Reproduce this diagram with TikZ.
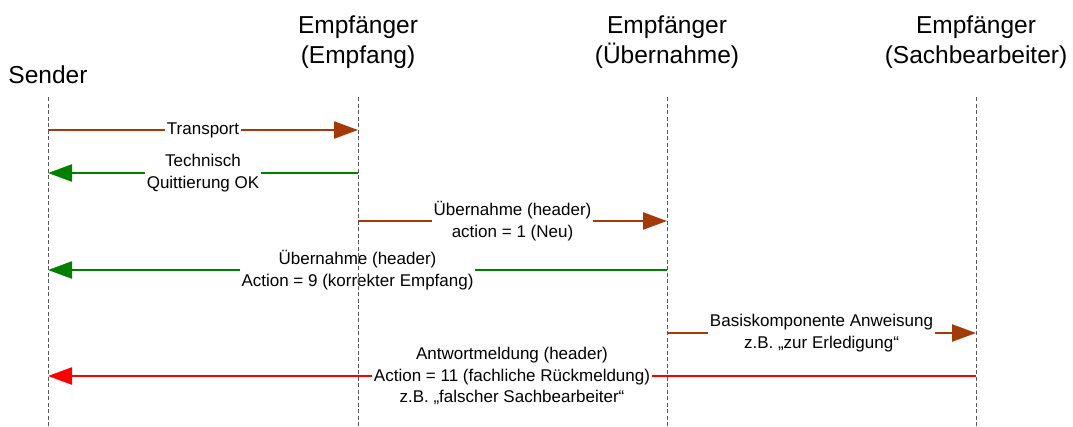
\documentclass[tikz,border=0pt]{standalone}
\usepackage{fontspec}
\setmainfont{Liberation Sans}
\usetikzlibrary{
		positioning,
		arrows.meta
	}
\definecolor{transfer}{RGB}{163,58,8}
\definecolor{ack}{RGB}{0,128,0}
\definecolor{reply}{RGB}{255,0,0}
\tikzset{
		>={Triangle[length=24pt,width=17pt]},
		party/.style={font=\fontsize{24.5}{30}\selectfont, align=center, inner sep=0pt},
		lifeline/.style={draw=black!65, line width=0.9pt, dash pattern=on 4pt off 2.5pt},
		msg/.style={line width=2.4pt, ->},
		msgtext/.style={fill=white, text=black, font=\fontsize{17}{21.5}\selectfont, align=center, inner sep=1.5pt}
	}

\begin{document}
\begin{tikzpicture}[x=1pt, y=-1pt] % (one unit = one pixel of the page, y pointing down)
		\useasboundingbox (0,0) rectangle (1073,426);
		% the parties
		\node[party] (snd) at (48,75) {Sender};
		\node[party] (emp) at (358,42) {Empfänger\\(Empfang)};
		\node[party] (ueb) at (667,42) {Empfänger\\(Übernahme)};
		\node[party] (sb)  at (976,42) {Empfänger\\(Sachbearbeiter)};
		% end points of the messages on the lifelines
		\coordinate (snd-1) at (48,130);  \coordinate (emp-1) at (358,130);
		\coordinate (snd-2) at (48,173);  \coordinate (emp-2) at (358,173);
		\coordinate (emp-3) at (358,221); \coordinate (ueb-3) at (667,221);
		\coordinate (snd-4) at (48,270);  \coordinate (ueb-4) at (667,270);
		\coordinate (ueb-5) at (667,333); \coordinate (sb-5)  at (976,333);
		\coordinate (snd-6) at (48,376);  \coordinate (sb-6)  at (976,376);
		% the messages
		\draw[msg, draw=transfer] (snd-1) -- node[msgtext]{Transport} (emp-1);
		\draw[msg, draw=ack] (emp-2) -- node[msgtext]{Technisch\\Quittierung OK} (snd-2);
		\draw[msg, draw=transfer] (emp-3) -- node[msgtext]{Übernahme (header)\\action = 1 (Neu)} (ueb-3);
		\draw[msg, draw=ack] (ueb-4) -- node[msgtext]{Übernahme (header)\\Action = 9 (korrekter Empfang)} (snd-4);
		\draw[msg, draw=transfer] (ueb-5) -- node[msgtext]{Basiskomponente Anweisung\\z.B. „zur Erledigung“} (sb-5);
		\draw[msg, draw=reply] (sb-6) -- node[msgtext]{Antwortmeldung (header)\\Action = 11 (fachliche Rückmeldung)\\z.B. „falscher Sachbearbeiter“} (snd-6);
		% lifelines on top
		\foreach \p/\x in {snd/48, emp/358, ueb/667, sb/976}{
			\coordinate (\p-top) at (\x,97);
			\coordinate (\p-bot) at (\x,426);
			\draw[lifeline] (\p-top) -- (\p-bot);
		}
	\end{tikzpicture}
\end{document}
